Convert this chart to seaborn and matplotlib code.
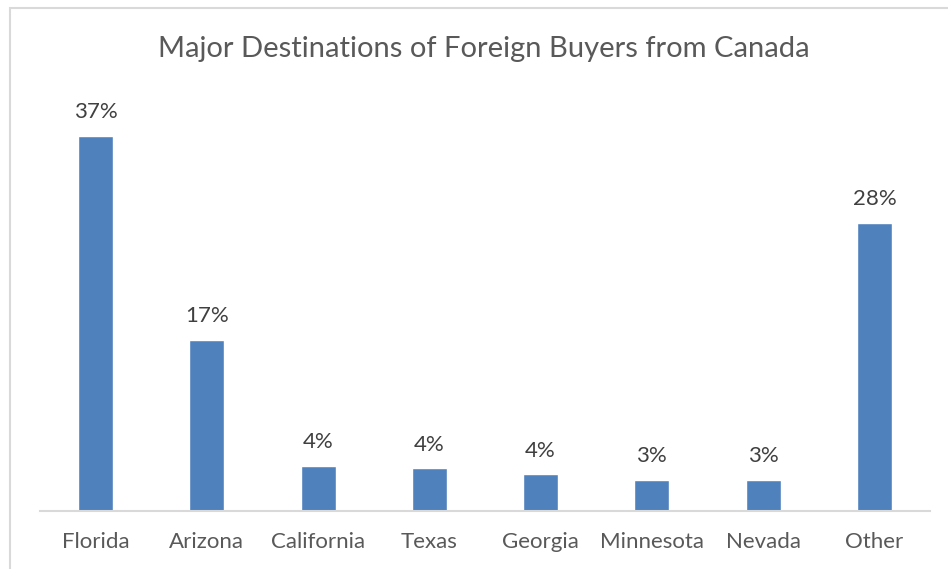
import matplotlib
matplotlib.use('Agg')
import matplotlib.pyplot as plt
from matplotlib.patches import Rectangle
import seaborn as sns
import pandas as pd

# chart data
states = ['Florida', 'Arizona', 'California', 'Texas', 'Georgia', 'Minnesota', 'Nevada', 'Other']
share = [37.0, 16.9, 4.4, 4.2, 3.6, 3.1, 3.1, 28.4]
title = 'Major Destinations of Foreign Buyers from Canada'

df = pd.DataFrame({'state': states, 'share': share})

sns.set_theme(style='white')
plt.rcParams['font.family'] = ['Lato', 'DejaVu Sans']
text_color = '#595959'

fig = plt.figure(figsize=(9.48, 5.69), dpi=100)
W, H = 948, 569
ax = fig.add_axes([40 / W, (H - 511) / H, 890 / W, 411 / H])

sns.barplot(data=df, x='state', y='share', color='#4F81BD', saturation=1,
            width=0.315, ax=ax)
ax.set_ylim(0, 411 / 10.14)
ax.set_xlim(-0.5, len(states) - 0.5)

ax.bar_label(ax.containers[0], labels=[f'{v:.0f}%' for v in share],
             padding=10, fontsize=16, color='#404040')

ax.set_xlabel('')
ax.set_ylabel('')
ax.set_yticks([])
ax.tick_params(axis='x', length=0, pad=15, labelsize=16, labelcolor=text_color)
for side in ['left', 'right', 'top']:
    ax.spines[side].set_visible(False)
ax.spines['bottom'].set_color('#d9d9d9')
ax.spines['bottom'].set_linewidth(1.5)

fig.text(484 / W, 1 - 49 / H, title, ha='center', va='center',
         fontsize=21, color=text_color)

# chart frame (cut off at right and bottom in the original)
fig.patches.append(Rectangle((10 / W, -0.1), 2, 1.1 - 8 / H,
                             transform=fig.transFigure, fill=False,
                             edgecolor='#d9d9d9', linewidth=1.5))

fig.savefig('out.png', dpi=100)
